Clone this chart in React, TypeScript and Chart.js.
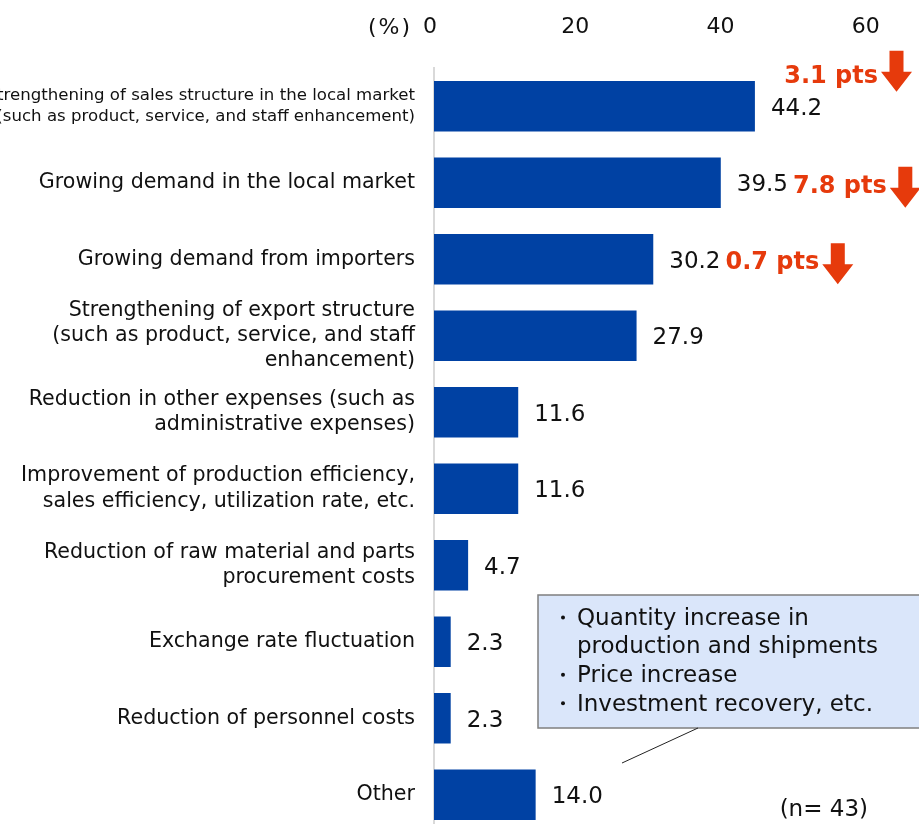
import React, { useEffect, useRef } from "react";
import { Chart, registerables } from "chart.js";

Chart.register(...registerables);

const FONT = "'DejaVu Sans', Verdana, sans-serif";

const categories: (string | string[])[] = [
  ["Strengthening of sales structure in the local market", "(such as product, service, and staff enhancement)"],
  "Growing demand in the local market",
  "Growing demand from importers",
  ["Strengthening of export structure", "(such as product, service, and staff", "enhancement)"],
  ["Reduction in other expenses (such as", "administrative expenses)"],
  ["Improvement of production efficiency,", "sales efficiency, utilization rate, etc."],
  ["Reduction of raw material and parts", "procurement costs"],
  "Exchange rate fluctuation",
  "Reduction of personnel costs",
  "Other",
];

const values = [44.2, 39.5, 30.2, 27.9, 11.6, 11.6, 4.7, 2.3, 2.3, 14.0];

const changeLabels: (string | null)[] = ["3.1 pts", "7.8 pts", "0.7 pts", null, null, null, null, null, null, null];

const xTickValues = [0, 20, 40, 60];

const calloutText = [
  "Quantity increase in",
  "production and shipments",
  "Price increase",
  "Investment recovery, etc.",
];
const calloutBullets = [true, false, true, true];

const unitLabel = "(%)";
const sampleNote = "(n= 43)";

const BAR_COLOR = "#0041A3";
const ACCENT = "#E63A0C";
const TEXT = "#111111";
const CAP = 0.729; // DejaVu cap height ratio

const overlayPlugin = {
  id: "overlay",
  afterDatasetsDraw(chart: any) {
    const { ctx, chartArea } = chart;
    const meta = chart.getDatasetMeta(0);
    ctx.save();

    // unit label
    ctx.font = `22px ${FONT}`;
    ctx.fillStyle = TEXT;
    ctx.textAlign = "right";
    ctx.textBaseline = "alphabetic";
    try {
      (ctx as any).letterSpacing = "2px";
    } catch (e) {}
    ctx.fillText(unitLabel, chartArea.left - 22, 26 + (22 * CAP) / 2);
    try {
      (ctx as any).letterSpacing = "0px";
    } catch (e) {}

    // value labels + change annotations
    meta.data.forEach((bar: any, i: number) => {
      const v = values[i];
      const txt = v.toFixed(1);
      ctx.font = `23px ${FONT}`;
      ctx.fillStyle = TEXT;
      ctx.textAlign = "left";
      ctx.textBaseline = "alphabetic";
      const lx = bar.x + 16;
      ctx.fillText(txt, lx, bar.y + (23 * CAP) / 2);
      const lw = ctx.measureText(txt).width;

      const ch = changeLabels[i];
      if (ch) {
        ctx.font = `bold 24px ${FONT}`;
        const tw = ctx.measureText(ch).width;
        const arrowW = 31;
        const arrowH = 41;
        const gap = 3;
        let tx = lx + lw + 5;
        let tyMid = bar.y + 1.5;
        let arrowMid = tyMid + 3;
        if (tx + tw + gap + arrowW > chartArea.right + 10) {
          const arrowRight = chartArea.right - 7;
          tx = arrowRight - arrowW - gap - tw;
          tyMid = bar.y - 32;
          arrowMid = tyMid - 3;
        }
        ctx.fillStyle = ACCENT;
        ctx.textAlign = "left";
        ctx.fillText(ch, tx, tyMid + (24 * CAP) / 2);
        const ax = tx + tw + gap;
        const cx = ax + arrowW / 2;
        const top = arrowMid - arrowH / 2;
        const headTop = top + 21;
        const tip = top + arrowH;
        const sw = 14;
        ctx.beginPath();
        ctx.moveTo(cx - sw / 2, top);
        ctx.lineTo(cx + sw / 2, top);
        ctx.lineTo(cx + sw / 2, headTop);
        ctx.lineTo(ax + arrowW, headTop);
        ctx.lineTo(cx, tip);
        ctx.lineTo(ax, headTop);
        ctx.lineTo(cx - sw / 2, headTop);
        ctx.closePath();
        ctx.fill();
      }
    });

    // callout box
    const bx = 538;
    const by = 595;
    const bw = 420;
    const bh = 133;
    ctx.fillStyle = "#DAE6FA";
    ctx.fillRect(bx, by, bw, bh);
    ctx.strokeStyle = "#7F7F7F";
    ctx.lineWidth = 1.5;
    ctx.strokeRect(bx, by, bw, bh);

    ctx.font = `23px ${FONT}`;
    ctx.textAlign = "left";
    ctx.textBaseline = "alphabetic";
    calloutText.forEach((line, k) => {
      const y = 616.5 + k * 28.6;
      ctx.fillStyle = TEXT;
      if (calloutBullets[k]) {
        ctx.beginPath();
        ctx.arc(563, y + 1, 2, 0, Math.PI * 2);
        ctx.fill();
      }
      ctx.fillText(line, 577, y + (23 * CAP) / 2);
    });

    // leader line
    ctx.strokeStyle = "#222222";
    ctx.lineWidth = 1;
    ctx.beginPath();
    ctx.moveTo(698, by + bh);
    ctx.lineTo(622, 763);
    ctx.stroke();

    // sample size note
    ctx.font = `23px ${FONT}`;
    ctx.fillStyle = TEXT;
    ctx.textAlign = "right";
    ctx.fillText(sampleNote, 868, 808 + (23 * CAP) / 2);

    ctx.restore();
  },
};

export default function App() {
  const ref = useRef<HTMLCanvasElement>(null);

  useEffect(() => {
    if (!ref.current) return;
    const chart = new Chart(ref.current, {
      type: "bar",
      data: {
        labels: categories,
        datasets: [
          {
            data: values,
            backgroundColor: BAR_COLOR,
            borderWidth: 0,
            barPercentage: 0.66,
            categoryPercentage: 1,
          },
        ],
      },
      options: {
        indexAxis: "y",
        responsive: false,
        animation: false,
        devicePixelRatio: 1,
        layout: { padding: 0 },
        plugins: {
          legend: { display: false },
          tooltip: { enabled: false },
        },
        scales: {
          x: {
            position: "top",
            type: "linear",
            min: 0,
            max: 66.8,
            afterBuildTicks: (scale: any) => {
              scale.ticks = xTickValues.map((v) => ({ value: v }));
            },
            afterFit: (scale: any) => {
              scale.height = 68;
              scale.paddingLeft = 0;
              scale.paddingRight = 0;
            },
            grid: { display: false, drawTicks: false },
            border: { display: false },
            ticks: {
              padding: 28,
              labelOffset: -4,
              color: TEXT,
              font: { family: FONT, size: 22, lineHeight: 1.2 },
              maxRotation: 0,
              autoSkip: false,
            },
          },
          y: {
            type: "category",
            afterFit: (scale: any) => {
              scale.width = 434;
              scale.paddingTop = 0;
              scale.paddingBottom = 0;
            },
            grid: { display: false, drawTicks: false },
            border: { display: true, color: "#D9D9D9", width: 2 },
            ticks: {
              padding: 19,
              color: TEXT,
              autoSkip: false,
              font: (c: any) =>
                c.index === 0
                  ? { family: FONT, size: 16.6, lineHeight: 1.27 }
                  : { family: FONT, size: 20.6, lineHeight: 1.23 },
            },
          },
        },
      },
      plugins: [overlayPlugin],
    } as any);
    return () => chart.destroy();
  }, []);

  return (
    <div
      style={{
        position: "fixed",
        left: 0,
        top: 0,
        width: 919,
        height: 824,
        overflow: "hidden",
        background: "#fff",
      }}
    >
      <canvas ref={ref} width={919} height={833} style={{ display: "block" }} />
    </div>
  );
}
